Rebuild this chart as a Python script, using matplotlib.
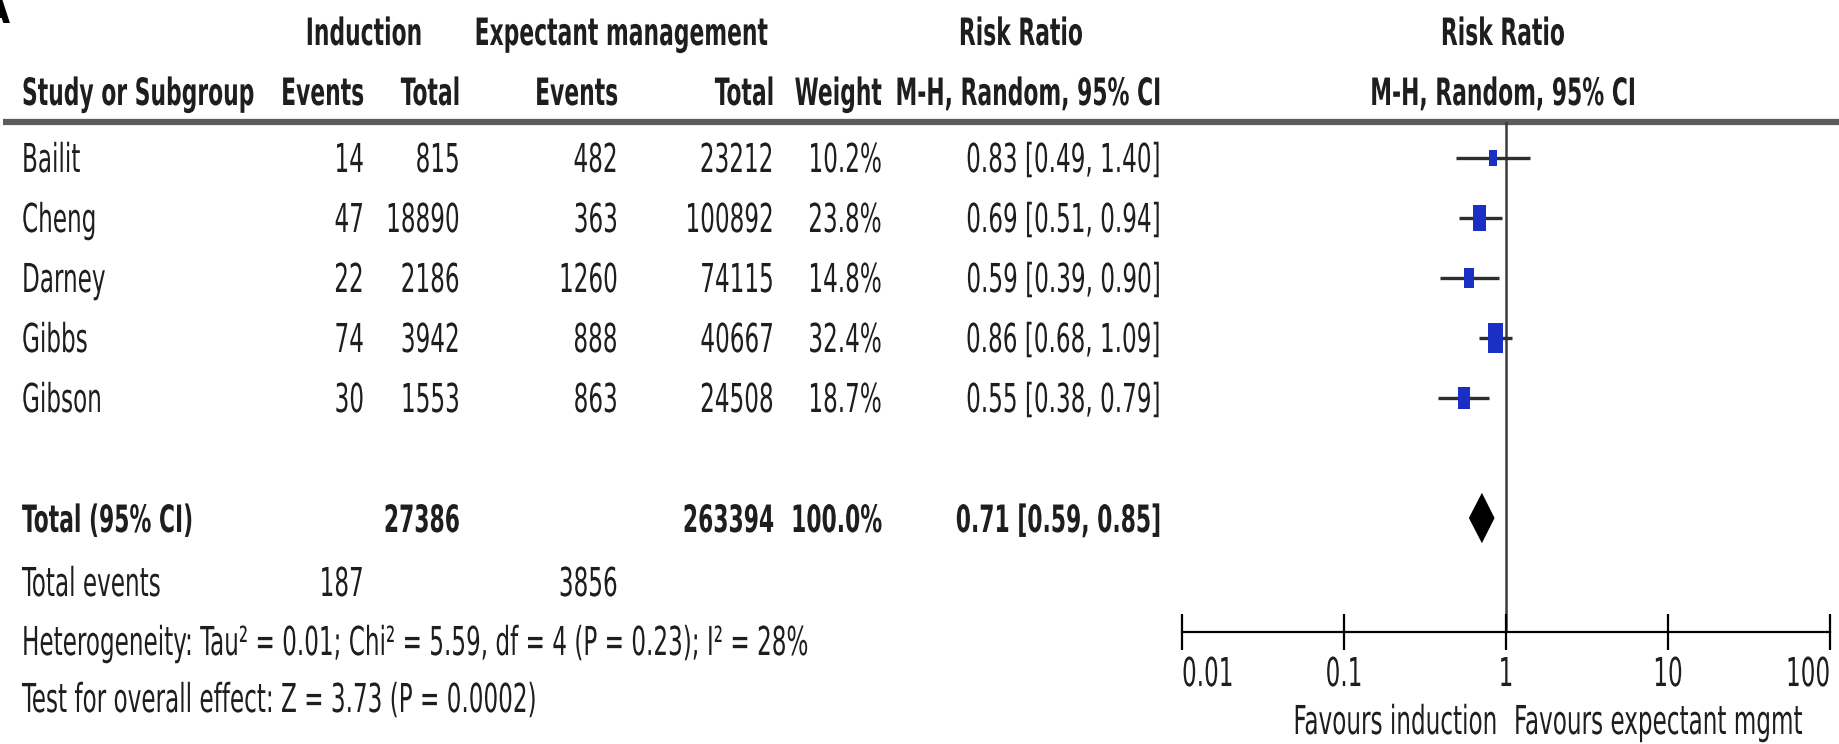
import matplotlib
matplotlib.use("Agg")
import matplotlib.pyplot as plt
import matplotlib.transforms as mtrans
from matplotlib import patheffects
import numpy as np

# ---- data ----
studies = ["Bailit", "Cheng", "Darney", "Gibbs", "Gibson"]
ind_events = [14, 47, 22, 74, 30]
ind_total = [815, 18890, 2186, 3942, 1553]
exp_events = [482, 363, 1260, 888, 863]
exp_total = [23212, 100892, 74115, 40667, 24508]
weights = [10.2, 23.8, 14.8, 32.4, 18.7]
rr = [0.83, 0.69, 0.59, 0.86, 0.55]
rr_lo = [0.49, 0.51, 0.39, 0.68, 0.38]
rr_hi = [1.40, 0.94, 0.90, 1.09, 0.79]

tot_ind_total = 27386
tot_exp_total = 263394
tot_weight = 100.0
tot_rr, tot_lo, tot_hi = 0.71, 0.59, 0.85
tot_ind_events = 187
tot_exp_events = 3856

het_text = "Heterogeneity: Tau\u00b2 = 0.01; Chi\u00b2 = 5.59, df = 4 (P = 0.23); I\u00b2 = 28%"
overall_text = "Test for overall effect: Z = 3.73 (P = 0.0002)"

xticks = [0.01, 0.1, 1, 10, 100]
xtick_labels = ["0.01", "0.1", "1", "10", "100"]

plt.rcParams['font.family'] = ['DejaVu Sans']
plt.rcParams['font.stretch'] = 'condensed'
FS = 18.5      # regular text
FSB = 17.5     # bold headers
TXT = "#1e1e1e"


class Tall(patheffects.AbstractPathEffect):
    """Stretch glyphs vertically about their baseline (tall narrow lettering)."""

    def __init__(self, k):
        super().__init__()
        self.k = k

    def draw_path(self, renderer, gc, tpath, affine, rgbFace=None):
        renderer.draw_path(gc, tpath, mtrans.Affine2D().scale(1, self.k) + affine, rgbFace)


TALL = [Tall(1.55)]

W, H = 1839, 744
fig = plt.figure(figsize=(W / 100, H / 100), dpi=100)

# full-figure axes in pixel units for the table layout
tab = fig.add_axes([0, 0, 1, 1])
tab.set_xlim(0, W)
tab.set_ylim(H, 0)
tab.axis("off")

# forest plot axes
x0, x1 = 1182, 1830
ytop, ybot = 122, 632
ax = fig.add_axes([x0 / W, 1 - ybot / H, (x1 - x0) / W, (ybot - ytop) / H])
ax.set_xscale("log")
ax.set_xlim(0.01, 100)
row0, step = 158, 60
ax.set_ylim((ybot - row0) / step, (ytop - row0) / step)
ax.patch.set_alpha(0)
for s in ["left", "right", "top"]:
    ax.spines[s].set_visible(False)
ax.spines["bottom"].set_linewidth(1.6)
ax.set_yticks([])
ax.set_xticks(xticks, labels=xtick_labels)
ax.minorticks_off()
ax.tick_params(axis="x", direction="inout", length=26, width=1.6, pad=11.5,
               labelsize=FS, labelcolor=TXT)
for lbl, ha in zip(ax.get_xticklabels(), ["left", "center", "center", "center", "right"]):
    lbl.set_ha(ha)
    lbl.set_path_effects(TALL)

rows = np.arange(len(studies))
total_row = len(studies) + 1

# line of no effect
ax.axvline(1, color="#3a3a3a", lw=1.8, zorder=1)

# CIs and weighted boxes
ax.hlines(rows, rr_lo, rr_hi, color="#2e2e2e", lw=2.4, zorder=2)
verts = [(-0.5, -1), (0.5, -1), (0.5, 1), (-0.5, 1), (-0.5, -1)]
ax.scatter(rr, rows, marker=verts, s=[14.4 * w for w in weights],
           color="#1c2fc4", edgecolors="none", zorder=3)

# pooled diamond
dh = 0.42
ax.fill([tot_lo, tot_rr, tot_hi, tot_rr],
        [total_row, total_row - dh, total_row, total_row + dh],
        color="black", lw=0, zorder=3)

# ---- table ----
# text is set on its baseline, 14 px below the nominal row centre
drop = mtrans.ScaledTranslation(0, -0.14, fig.dpi_scale_trans)
rowtr = mtrans.blended_transform_factory(tab.transData, ax.transData) + drop
pxtr = tab.transData + drop


def put(x, y, s, ha="right", bold=False, tr=None):
    tab.text(x, y, s, ha=ha, va="baseline", fontsize=FSB if bold else FS, color=TXT,
             fontweight="bold" if bold else "normal",
             transform=tr if tr is not None else pxtr, path_effects=TALL)


# panel letter, cut by the edge
tab.text(10, 12, "A", ha="right", va="center", fontsize=28, fontweight="bold", color="black")

# headers
put(364, 31, "Induction", ha="center", bold=True)
put(621, 31, "Expectant management", ha="center", bold=True)
put(1021, 31, "Risk Ratio", ha="center", bold=True)
put(1503, 31, "Risk Ratio", ha="center", bold=True)
put(22, 91, "Study or Subgroup", ha="left", bold=True)
put(364, 91, "Events", bold=True)
put(460, 91, "Total", bold=True)
put(618, 91, "Events", bold=True)
put(774, 91, "Total", bold=True)
put(882, 91, "Weight", bold=True)
put(1161, 91, "M-H, Random, 95% CI", bold=True)
put(1503, 91, "M-H, Random, 95% CI", ha="center", bold=True)
tab.plot([3, W], [122, 122], color="#5c5c5c", lw=4.5, solid_capstyle="butt")

for i, name in enumerate(studies):
    put(22, i, name, ha="left", tr=rowtr)
    put(364, i, str(ind_events[i]), tr=rowtr)
    put(460, i, str(ind_total[i]), tr=rowtr)
    put(618, i, str(exp_events[i]), tr=rowtr)
    put(774, i, str(exp_total[i]), tr=rowtr)
    put(882, i, f"{weights[i]:.1f}%", tr=rowtr)
    put(1161, i, f"{rr[i]:.2f} [{rr_lo[i]:.2f}, {rr_hi[i]:.2f}]", tr=rowtr)

put(22, total_row, "Total (95% CI)", ha="left", bold=True, tr=rowtr)
put(460, total_row, str(tot_ind_total), bold=True, tr=rowtr)
put(774, total_row, str(tot_exp_total), bold=True, tr=rowtr)
put(882, total_row, f"{tot_weight:.1f}%", bold=True, tr=rowtr)
put(1161, total_row, f"{tot_rr:.2f} [{tot_lo:.2f}, {tot_hi:.2f}]", bold=True, tr=rowtr)

put(22, 582, "Total events", ha="left")
put(364, 582, str(tot_ind_events))
put(618, 582, str(tot_exp_events))
put(22, 641, het_text, ha="left")
put(22, 698, overall_text, ha="left")

# direction labels under the axis
favtr = mtrans.blended_transform_factory(ax.transData, tab.transData)
tab.text(0.89, 734, "Favours induction", ha="right", va="baseline", fontsize=FS,
         color=TXT, transform=favtr, path_effects=TALL)
tab.text(1.12, 734, "Favours expectant mgmt", ha="left", va="baseline", fontsize=FS,
         color=TXT, transform=favtr, path_effects=TALL)

fig.savefig("out.png", dpi=100)
